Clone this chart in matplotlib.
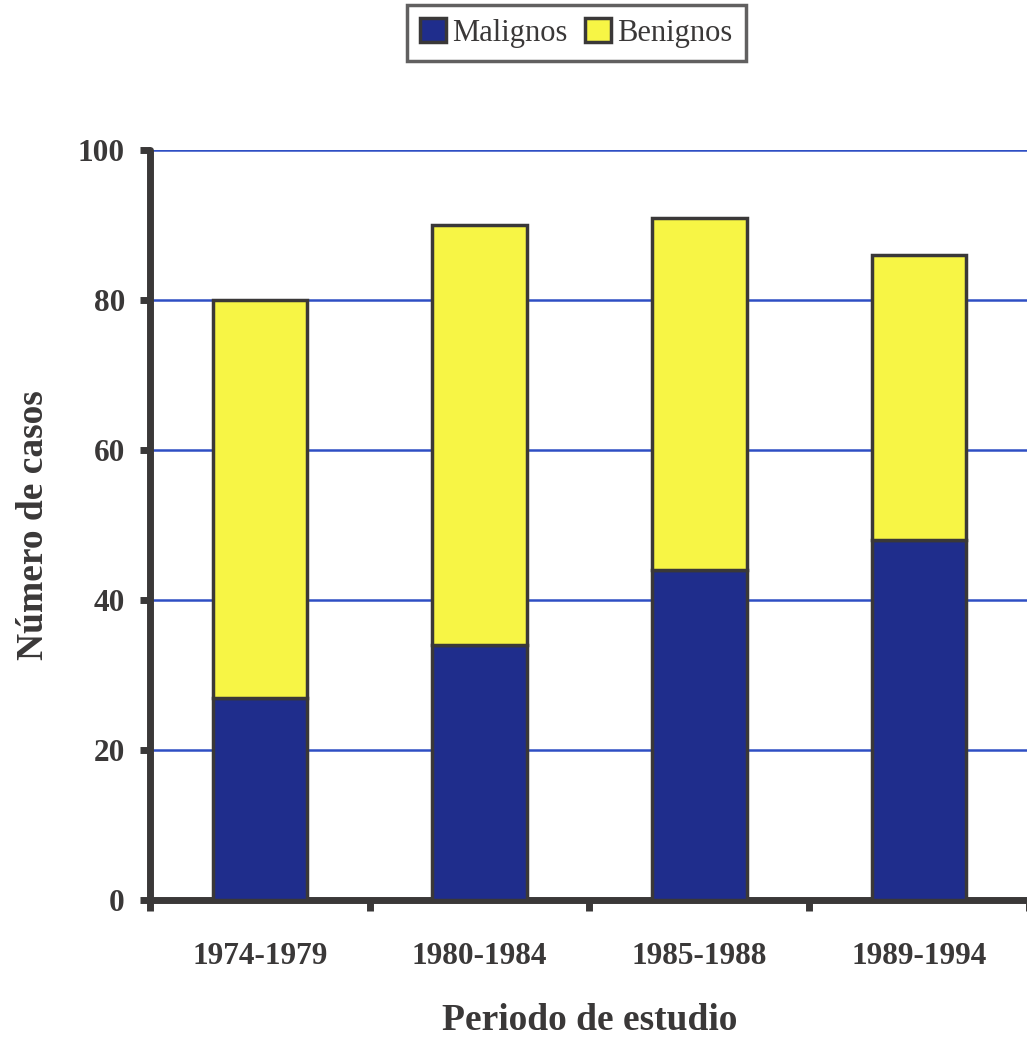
import numpy as np
import matplotlib
matplotlib.use("Agg")
from matplotlib import pyplot as plt

periodos = ["1974-1979", "1980-1984", "1985-1988", "1989-1994"]
malignos = [27, 34, 44, 48]
benignos = [53, 56, 47, 38]
yticks = [0, 20, 40, 60, 80, 100]

ink = "#3a3838"
azul = "#1f2d8c"
amarillo = "#f7f545"

plt.rcParams["font.family"] = ["Liberation Serif", "DejaVu Serif"]

fig = plt.figure(figsize=(10.27, 10.37), dpi=100)
ax = fig.add_axes([0.146, 0.132, 0.856, 0.723])

x = np.arange(len(periodos))
w = 0.43
ax.bar(x, malignos, w, color=azul, edgecolor=ink, linewidth=2.5, label="Malignos", zorder=3)
ax.bar(x, benignos, w, bottom=malignos, color=amarillo, edgecolor=ink, linewidth=2.5,
       label="Benignos", zorder=3)

ax.set_xlim(-0.5, 3.5)
ax.set_ylim(0, 100)
ax.set_yticks(yticks)
ax.set_yticklabels([str(v) for v in yticks], fontsize=22.5, fontweight="bold", color=ink)
ax.yaxis.grid(True, color="#2f4fc4", linewidth=1.8, zorder=1)
ax.set_axisbelow(True)

ax.set_xticks(x)
ax.set_xticklabels(periodos, fontsize=22.5, fontweight="bold", color=ink)
ax.tick_params(axis="x", which="major", length=0, pad=30)
ax.set_xticks(np.arange(-0.5, 4.0, 1.0), minor=True)
ax.tick_params(axis="x", which="minor", length=8, width=5, color=ink, direction="out")
ax.tick_params(axis="y", length=7, width=5, color=ink, pad=11)

for s in ["top", "right"]:
    ax.spines[s].set_visible(False)
for s in ["left", "bottom"]:
    ax.spines[s].set_linewidth(5)
    ax.spines[s].set_color(ink)
    ax.spines[s].set_capstyle("round")

ax.set_ylabel("Número de casos", fontsize=27, fontweight="bold", color=ink, labelpad=19)
ax.set_xlabel("Periodo de estudio", fontsize=27, fontweight="bold", color=ink, labelpad=23)

leg = fig.legend(loc="upper center", bbox_to_anchor=(0.561, 0.995), ncol=2, fontsize=22,
                 frameon=True, fancybox=False, edgecolor=ink, handlelength=0.85,
                 handleheight=0.85, handletextpad=0.2, columnspacing=0.6,
                 borderpad=0.42, borderaxespad=0)
leg.get_frame().set_linewidth(2.5)
for t in leg.get_texts():
    t.set_color(ink)

fig.savefig("out.png", dpi=100)
